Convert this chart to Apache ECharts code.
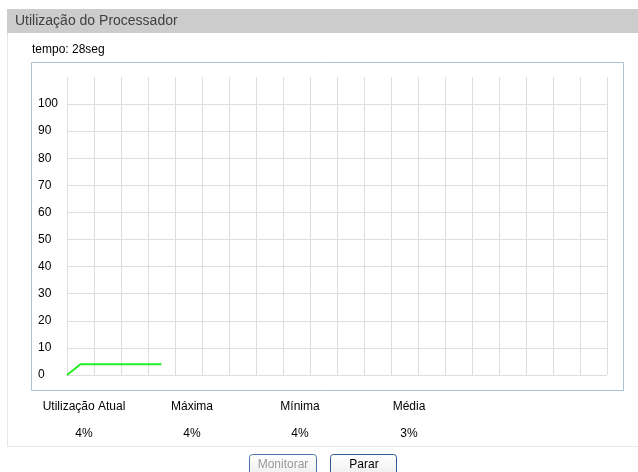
<!DOCTYPE html>
<html>
<head>
<meta charset="utf-8">
<title>Utilização do Processador</title>
<script src="https://cdn.jsdelivr.net/npm/echarts@6/dist/echarts.min.js"></script>
<style>
  html, body { margin: 0; padding: 0; background: #fff; }
  #chart { width: 638px; height: 472px; }
</style>
</head>
<body>
<div id="chart"></div>
<script>
// amostras a cada 4 seg (28 seg = 7 amostras)
const sampleIndex = [0, 1, 2, 3, 4, 5, 6, 7]
const cpuUsage = [0, 4, 4, 4, 4, 4, 4, 4]
const yTicks = [0, 10, 20, 30, 40, 50, 60, 70, 80, 90, 100]
const statNames = ['Utilização Atual', 'Máxima', 'Mínima', 'Média']
const statValues = ['4%', '4%', '4%', '3%']
const elapsed = 'tempo: 28seg'

const FONT = 'Liberation Sans, Arial, sans-serif'
const gridColor = '#dedede'

// a linha do 110 nao aparece, so as de 0 a 100
const hLineColors = yTicks.map(() => gridColor).concat(['rgba(0,0,0,0)'])

const statX = [84, 192, 300, 409]

const myChart = echarts.init(document.getElementById('chart'))

const graphics = [
  // borda do painel
  { type: 'line', shape: { x1: 7.5, y1: 33, x2: 7.5, y2: 446.5 }, style: { stroke: '#e6e6e6', lineWidth: 1 }, z: 0 },
  { type: 'line', shape: { x1: 7, y1: 446.5, x2: 638, y2: 446.5 }, style: { stroke: '#e6e6e6', lineWidth: 1 }, z: 0 },
  // cabecalho
  { type: 'rect', shape: { x: 7, y: 9, width: 631, height: 24 }, style: { fill: '#cccccc' }, z: 0 },
  { type: 'text', x: 15, y: 21, style: { text: 'Utilização do Processador', fill: '#404040', font: '14px ' + FONT, textVerticalAlign: 'middle' }, z: 1 },
  { type: 'text', x: 32, y: 50, style: { text: elapsed, fill: '#000', font: '12px ' + FONT, textVerticalAlign: 'middle' }, z: 1 },
  // caixa do grafico
  { type: 'rect', shape: { x: 31.5, y: 62.5, width: 592, height: 328 }, style: { fill: 'rgba(0,0,0,0)', stroke: '#a9c2d6', lineWidth: 1 }, z: 0 },
  // botoes
  { type: 'rect', shape: { x: 249.5, y: 454.5, width: 67, height: 24, r: 3 }, style: { fill: new echarts.graphic.LinearGradient(0, 0, 0, 1, [{ offset: 0, color: '#ffffff' }, { offset: 1, color: '#ececec' }]), stroke: '#4d73a8', lineWidth: 1 }, z: 1 },
  { type: 'text', x: 283, y: 465, style: { text: 'Monitorar', fill: '#9a9a9a', font: '12px ' + FONT, textAlign: 'center', textVerticalAlign: 'middle' }, z: 2 },
  { type: 'rect', shape: { x: 330.5, y: 454.5, width: 66, height: 24, r: 3 }, style: { fill: new echarts.graphic.LinearGradient(0, 0, 0, 1, [{ offset: 0, color: '#ffffff' }, { offset: 1, color: '#ececec' }]), stroke: '#2e5a94', lineWidth: 1 }, z: 1 },
  { type: 'text', x: 364, y: 465, style: { text: 'Parar', fill: '#000', font: '12px ' + FONT, textAlign: 'center', textVerticalAlign: 'middle' }, z: 2 }
]

statNames.forEach((name, i) => {
  graphics.push({ type: 'text', x: statX[i], y: 407, style: { text: name, fill: '#000', font: '12px ' + FONT, textAlign: 'center', textVerticalAlign: 'middle' }, z: 1 })
  graphics.push({ type: 'text', x: statX[i], y: 434, style: { text: statValues[i], fill: '#000', font: '12px ' + FONT, textAlign: 'center', textVerticalAlign: 'middle' }, z: 1 })
})

myChart.setOption({
  animation: false,
  backgroundColor: '#fff',
  graphic: graphics,
  grid: {
    left: 67,
    right: 31,
    top: 77,
    bottom: 97
  },
  xAxis: {
    type: 'value',
    min: 0,
    max: 40,
    interval: 2,
    axisLine: { show: false },
    axisTick: { show: false },
    axisLabel: { show: false },
    splitLine: {
      show: true,
      lineStyle: { color: gridColor, width: 1 }
    }
  },
  yAxis: {
    type: 'value',
    min: 0,
    max: 110,
    interval: 10,
    axisLine: { show: false },
    axisTick: { show: false },
    axisLabel: {
      align: 'left',
      margin: 29,
      color: '#000',
      fontSize: 12,
      fontFamily: FONT,
      formatter: (v) => (yTicks.indexOf(v) >= 0 ? String(v) : '')
    },
    splitLine: {
      show: true,
      lineStyle: { color: hLineColors, width: 1 }
    }
  },
  series: [
    {
      name: 'CPU',
      type: 'line',
      data: sampleIndex.map((x, i) => [x, cpuUsage[i]]),
      showSymbol: false,
      lineStyle: { color: '#22ee22', width: 2 },
      z: 3
    }
  ]
})
</script>
</body>
</html>
